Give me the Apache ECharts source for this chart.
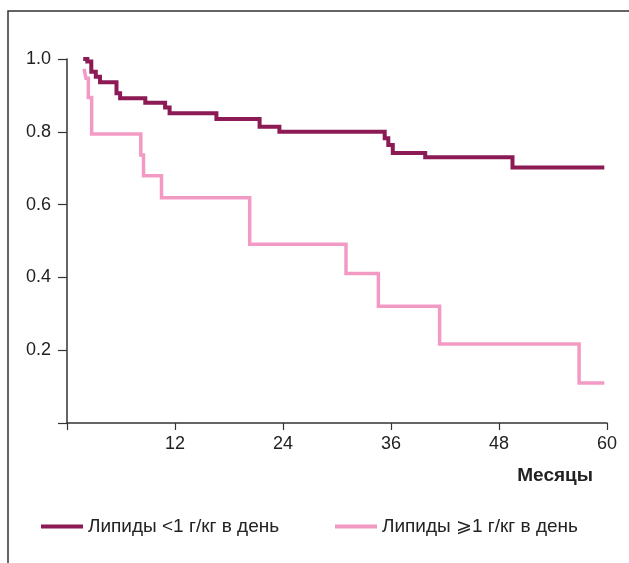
<!DOCTYPE html>
<html>
<head>
<meta charset="utf-8">
<script src="https://cdn.jsdelivr.net/npm/echarts@6/dist/echarts.min.js"></script>
<style>
  html, body { margin: 0; padding: 0; background: #fff; }
  #chart { width: 629px; height: 563px; }
</style>
</head>
<body>
<div id="chart"></div>
<script>
// months at which survival changes, and survival after that change
const lowTimes = [1.8, 2.26, 2.7, 3.2, 3.67, 5.5, 5.9, 8.7, 10.9, 11.4, 16.6, 21.4, 23.6, 35.3, 35.7, 36.2, 39.8, 49.5, 59.7];
const lowSurv = [1.0, 0.993, 0.965, 0.951, 0.936, 0.906, 0.892, 0.880, 0.867, 0.851, 0.835, 0.814, 0.800, 0.782, 0.764, 0.742, 0.730, 0.702, 0.702];

const highTimes = [1.9, 2.1, 2.37, 2.74, 8.2, 8.5, 10.5, 20.3, 31.0, 34.6, 41.4, 56.9, 59.7];
const highSurv = [0.973, 0.947, 0.894, 0.794, 0.736, 0.679, 0.619, 0.491, 0.411, 0.321, 0.217, 0.110, 0.110];

const seriesNames = ['Липиды <1 г/кг в день', 'Липиды \u2a7e1 г/кг в день'];
const colors = ['#8c1b55', '#f39ac4'];

const pair = (xs, ys) => xs.map((x, i) => [x, ys[i]]);

const chart = echarts.init(document.getElementById('chart'));
const axisCol = '#333';
const txtCol = '#222';
const font = 'Liberation Sans, Arial, sans-serif';

const legendBase = {
  top: 512,
  itemWidth: 42, itemHeight: 4,
  icon: 'rect',
  textStyle: { fontSize: 19, color: txtCol, fontFamily: font }
};

chart.setOption({
  animation: false,
  textStyle: { fontFamily: font },
  grid: { left: 67, right: 22, top: 59, bottom: 140, containLabel: false },
  title: {
    text: 'Месяцы',
    right: 31, top: 461,
    textStyle: { fontSize: 19, fontWeight: 'bold', color: txtCol, fontFamily: font }
  },
  legend: [
    Object.assign({ left: 36, data: [seriesNames[0]] }, legendBase),
    Object.assign({ left: 330, data: [seriesNames[1]] }, legendBase)
  ],
  graphic: [{
    type: 'polyline',
    shape: { points: [[8, 563], [8, 11], [629, 11]] },
    style: { stroke: '#333', lineWidth: 1.5, fill: null }
  }],
  xAxis: {
    type: 'value', min: 0, max: 60, interval: 12,
    splitLine: { show: false },
    axisLine: { lineStyle: { color: axisCol, width: 1.5 } },
    axisTick: { length: 7, lineStyle: { color: axisCol, width: 1.2 } },
    axisLabel: {
      margin: 12, fontSize: 18, color: txtCol, fontFamily: font,
      formatter: v => (v === 0 ? '' : String(v))
    }
  },
  yAxis: {
    type: 'value', min: 0, max: 1, interval: 0.2,
    splitLine: { show: false },
    axisLine: { show: true, lineStyle: { color: axisCol, width: 1.5 } },
    axisTick: { show: true, length: 9, lineStyle: { color: axisCol, width: 1.2 } },
    axisLabel: {
      margin: 16, fontSize: 18, color: txtCol, fontFamily: font,
      formatter: v => (v === 0 ? '' : v.toFixed(1))
    }
  },
  series: [
    {
      name: seriesNames[0], type: 'line', step: 'end', showSymbol: false,
      color: colors[0], lineStyle: { width: 4, color: colors[0], cap: 'butt', join: 'miter' },
      data: pair(lowTimes, lowSurv), z: 3
    },
    {
      name: seriesNames[1], type: 'line', step: 'end', showSymbol: false,
      color: colors[1], lineStyle: { width: 3.5, color: colors[1], cap: 'butt', join: 'miter' },
      data: pair(highTimes, highSurv), z: 2
    }
  ]
});
</script>
</body>
</html>
